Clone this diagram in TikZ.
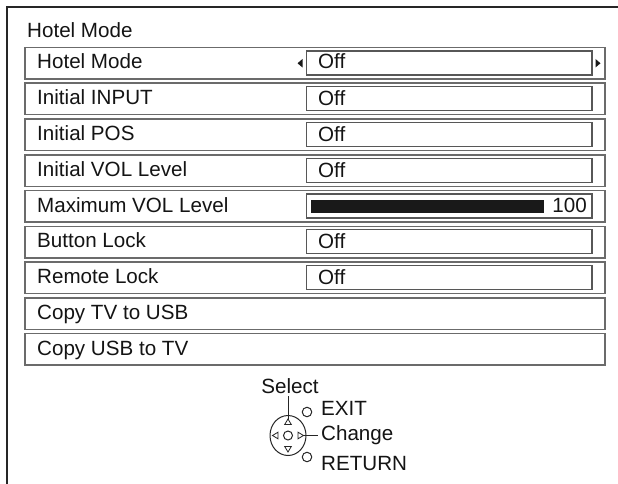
\documentclass[tikz,border=0pt]{standalone}
\usepackage{fontspec}
\setmainfont{Liberation Sans}
\usetikzlibrary{shapes.geometric}
\begin{document}
\begin{tikzpicture}[x=1pt,y=-1pt,
  txt/.style={font=\fontsize{20.6}{24}\selectfont, inner sep=0pt, anchor=base west, text=black!92},
  rowbox/.style={draw=black!58, line width=1.5pt},
  valbox/.style={draw=black!66, line width=1.3pt},
  padline/.style={draw=black!85, line width=1pt},
]
\useasboundingbox (0,0) rectangle (618,484);
\clip (0,0) rectangle (618,484);
\fill[white] (0,0) rectangle (618,484);
\draw[line width=1.8pt, black!85] (7,520) -- (7,7) -- (640,7);

\node[txt] (title) at (27,38) {Hotel Mode};

\foreach \i/\lab in {0/Hotel Mode,1/Initial INPUT,2/Initial POS,3/Initial VOL Level,4/Maximum VOL Level,5/Button Lock,6/Remote Lock,7/Copy TV to USB,8/Copy USB to TV}{
  \pgfmathsetmacro\rt{47.5+35.75*\i}
  \draw[rowbox] (25,\rt) rectangle (605,\rt+31.5);
  \node[txt] (lab\i) at (37,\rt+21.5) {\lab};
}
\foreach \i in {0,...,6}{
  \pgfmathsetmacro\rt{47.5+35.75*\i}
  \draw[valbox] (306.5,\rt+3.5) rectangle (592,\rt+27.5);
}
\node[txt] (val0) at (318,47.5+21.5) {Off};
\foreach \i in {1,2,3,5,6}{
  \pgfmathsetmacro\rt{47.5+35.75*\i}
  \node[txt] (val\i) at (318,\rt+22.5) {Off};
}
% Maximum VOL level bar
\pgfmathsetmacro\rf{47.5+35.75*4}
\fill[black!90] (311,\rf+9) rectangle (544,\rf+22);
\node[txt, anchor=base east] (val4) at (587,\rf+22) {100};
% arrows in first row
\fill[black!90] (297.5,63.25) -- (302.5,59) -- (302.5,67.5) -- cycle;
\fill[black!90] (600.5,63.25) -- (595.5,59) -- (595.5,67.5) -- cycle;

% control pad
\node[txt, anchor=base] (sel) at (290,393) {Select};
\node[padline, ellipse, minimum width=36pt, minimum height=40pt, inner sep=0pt] (pad) at (288,435.5) {};
\node[padline, circle, minimum size=9pt, inner sep=0pt] (ctr) at (288,435.5) {};
\coordinate (uptri) at (288,419);
\draw[padline, line width=0.8pt] (uptri) -- (291.3,424.5) -- (284.7,424.5) -- cycle;
\draw[padline, line width=0.8pt] (288,452) -- (291.3,446.5) -- (284.7,446.5) -- cycle;
\draw[padline, line width=0.8pt] (272.5,435.5) -- (278,432.2) -- (278,438.8) -- cycle;
\coordinate (rtri) at (303.5,435.5);
\draw[padline, line width=0.8pt] (rtri) -- (298,432.2) -- (298,438.8) -- cycle;
\draw[padline] (sel.south -| uptri) ++(0,3) -- (uptri);
\node[padline, circle, minimum size=9.5pt, inner sep=0pt] (exitc) at (307,412) {};
\node[padline, circle, minimum size=9.5pt, inner sep=0pt] (retc) at (307,457) {};
\node[txt] (exit) at (321,415) {EXIT};
\node[txt] (chg) at (321,440) {Change};
\node[txt] (ret) at (321,470) {RETURN};
\draw[padline] (rtri) -- ([xshift=-3pt]chg.west |- rtri);
\end{tikzpicture}
\end{document}
